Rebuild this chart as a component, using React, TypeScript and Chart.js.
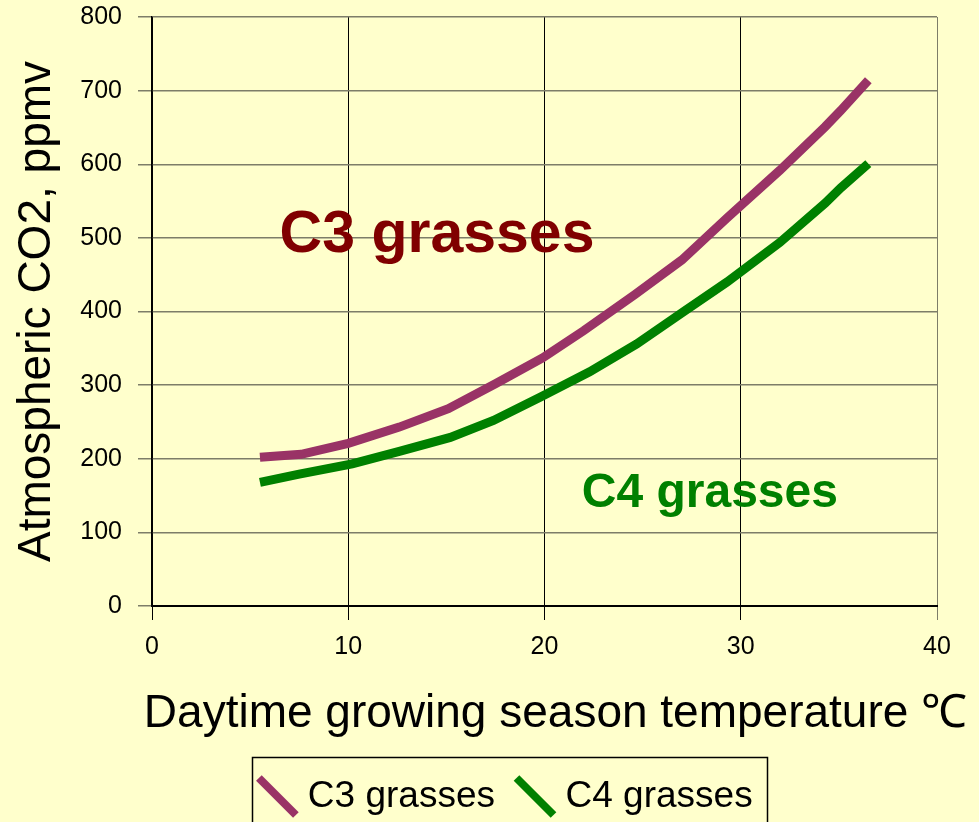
import React, { useEffect, useRef } from 'react';
import { Chart, registerables } from 'chart.js';

Chart.register(...registerables);

// ---- data ----
const SERIES_NAMES = ['C3 grasses', 'C4 grasses'];
const C3_TEMP = [5.5, 7.6, 10.0, 12.6, 15.1, 17.5, 19.9, 22.0, 24.6, 27.0, 29.3, 32.0, 34.3, 35.1, 36.5];
const C3_CO2 = [202, 206, 221, 243, 268, 302, 337, 374, 423, 470, 527, 592, 651, 673, 714];
const C4_TEMP = [5.5, 7.5, 10.2, 12.6, 15.2, 17.4, 19.8, 22.3, 24.7, 27.1, 29.3, 32.0, 34.3, 35.1, 36.5];
const C4_CO2 = [168, 179, 193, 210, 229, 252, 284, 318, 356, 400, 440, 494, 547, 568, 601];
const X_RANGE = [0, 40];
const X_STEP = 10;
const Y_RANGE = [0, 800];
const Y_STEP = 100;
const X_TITLE = 'Daytime growing season temperature \u2103';
const Y_TITLE = 'Atmospheric CO2, ppmv';
const NOTE_TEXTS = ['C3 grasses', 'C4 grasses'];
const NOTE_X = [6.5, 21.9];
const NOTE_Y = [481, 134.5];

// ---- styles ----
const FONT = '"Liberation Sans", Arial, sans-serif';
const BG = '#FFFFCC';
const GRID_GREY = '#7d7d68';
const C3_COLOR = '#993366';
const C4_COLOR = '#008000';
const NOTE_COLORS = ['#800000', '#008000'];
const NOTE_SIZES = [59, 48];

const bgPlugin = {
  id: 'bgFill',
  beforeDraw(chart: any) {
    const { ctx, width, height } = chart;
    ctx.save();
    ctx.fillStyle = BG;
    ctx.fillRect(0, 0, width, height);
    ctx.restore();
  },
};

const legendPlace = {
  id: 'legendPlace',
  afterUpdate(chart: any) {
    const lg = chart.legend;
    if (!lg) return;
    const dx = 509 - (lg.left + lg.right) / 2;
    lg.left += dx;
    lg.right += dx;
    lg.top += 3;
    lg.bottom += 3;
  },
  afterDraw(chart: any) {
    const lg = chart.legend;
    if (!lg || !lg.lineWidths) return;
    const p = lg.options.labels.padding;
    const w = lg.lineWidths[0] - p;
    const cx = (lg.left + lg.right) / 2;
    const x0 = cx - w / 2;
    const ctx = chart.ctx;
    ctx.save();
    ctx.strokeStyle = '#000';
    ctx.lineWidth = 1.5;
    ctx.strokeRect(Math.round(x0 - 13) + 0.5, 757.5, Math.round(w + 28), 100);
    ctx.restore();
  },
};

const xTitlePlugin = {
  id: 'xTitle',
  afterDraw(chart: any) {
    const { ctx, scales } = chart;
    const xs = scales.x;
    ctx.save();
    ctx.font = `46px ${FONT}`;
    ctx.fillStyle = '#000';
    ctx.textAlign = 'center';
    ctx.textBaseline = 'middle';
    ctx.fillText(X_TITLE, (xs.left + xs.right) / 2 + 11, xs.bottom - 33);
    ctx.restore();
  },
};

const notesPlugin = {
  id: 'notes',
  afterDatasetsDraw(chart: any) {
    const { ctx, scales } = chart;
    ctx.save();
    ctx.textAlign = 'left';
    ctx.textBaseline = 'alphabetic';
    NOTE_TEXTS.forEach((t, i) => {
      ctx.font = `bold ${NOTE_SIZES[i]}px ${FONT}`;
      ctx.fillStyle = NOTE_COLORS[i];
      ctx.fillText(t, scales.x.getPixelForValue(NOTE_X[i]), scales.y.getPixelForValue(NOTE_Y[i]));
    });
    ctx.restore();
  },
};

export default function App() {
  const ref = useRef<HTMLCanvasElement | null>(null);

  useEffect(() => {
    document.body.style.margin = '0';
    document.body.style.background = BG;
    const canvas = ref.current;
    if (!canvas) return;
    const mk = (temps: number[], vals: number[]) => temps.map((x, i) => ({ x, y: vals[i] }));
    const lineDs = (label: string, data: any[], color: string) => ({
      label,
      data,
      borderColor: color,
      backgroundColor: color,
      borderWidth: 9,
      pointRadius: 0,
      pointHoverRadius: 0,
      pointStyle: 'line',
      pointRotation: 45,
      pointBorderWidth: 8,
      pointBorderColor: color,
      pointBackgroundColor: color,
      tension: 0,
      fill: false,
    });
    const chart = new Chart(canvas, {
      type: 'line',
      data: {
        datasets: [
          lineDs(SERIES_NAMES[0], mk(C3_TEMP, C3_CO2), C3_COLOR),
          lineDs(SERIES_NAMES[1], mk(C4_TEMP, C4_CO2), C4_COLOR),
        ],
      },
      options: {
        animation: false,
        responsive: false,
        devicePixelRatio: 1,
        layout: { padding: { top: 17, right: 42, bottom: 0, left: 0 } },
        plugins: {
          legend: {
            position: 'bottom',
            labels: {
              usePointStyle: true,
              boxWidth: 24,
              padding: 28,
              color: '#000',
              font: { family: FONT, size: 37 },
            },
          },
          tooltip: { enabled: false },
        },
        scales: {
          x: {
            type: 'linear',
            min: X_RANGE[0],
            max: X_RANGE[1],
            ticks: { stepSize: X_STEP, color: '#000', padding: 12, font: { family: FONT, size: 25 } },
            grid: {
              color: (c: any) => (c.tick && c.tick.value === X_RANGE[1] ? GRID_GREY : '#000'),
              lineWidth: 1,
              tickLength: 14,
            },
            border: { color: '#000', width: 2 },
            title: { display: false },
            afterFit: (s: any) => {
              s.height = 141;
            },
          },
          y: {
            type: 'linear',
            min: Y_RANGE[0],
            max: Y_RANGE[1],
            ticks: { stepSize: Y_STEP, color: '#000', padding: 16, font: { family: FONT, size: 25 } },
            grid: { color: GRID_GREY, lineWidth: 1.5, tickLength: 14 },
            border: { color: '#000', width: 1.5 },
            title: {
              display: true,
              text: Y_TITLE,
              color: '#000',
              font: { family: FONT, size: 46 },
              padding: { top: 10, bottom: 0 },
            },
            afterFit: (s: any) => {
              s.width = 152;
              s.paddingTop = 14;
              s.paddingBottom = 14;
            },
          },
        },
      } as any,
      plugins: [bgPlugin, legendPlace, xTitlePlugin, notesPlugin],
    });
    return () => chart.destroy();
  }, []);

  return <canvas ref={ref} width={979} height={822} style={{ display: 'block', width: 979, height: 822 }} />;
}
